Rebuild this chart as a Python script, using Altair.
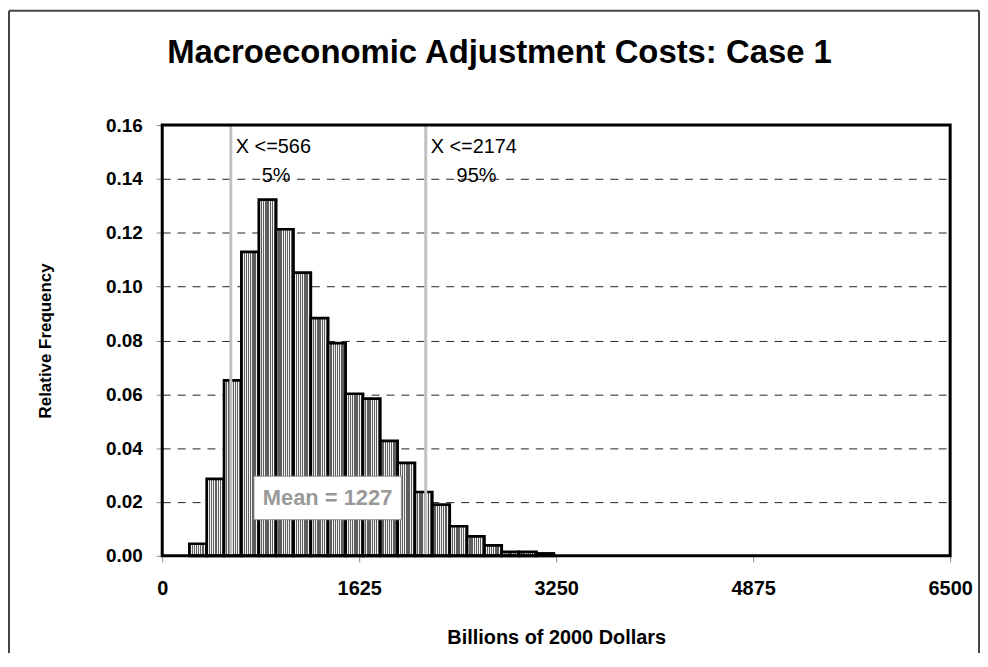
import altair as alt
import pandas as pd

FONT = "Liberation Sans"

# ---- data ----
bin_edges = [224, 367, 510, 653, 797, 940, 1083, 1226, 1369, 1513, 1656,
             1799, 1942, 2085, 2228, 2372, 2515, 2658, 2801, 2944, 3088, 3231]
rel_freq = [0.0045, 0.0286, 0.0652, 0.1129, 0.1323, 0.1213, 0.1052, 0.0883,
            0.0790, 0.0602, 0.0584, 0.0427, 0.0345, 0.0237, 0.0190, 0.0110,
            0.0072, 0.0039, 0.0015, 0.0015, 0.0009]
x_ticks = [0, 1625, 3250, 4875, 6500]
y_ticks = [0.00, 0.02, 0.04, 0.06, 0.08, 0.10, 0.12, 0.14, 0.16]
pct_values = [566, 2174]
pct_labels = ["X <=566", "X <=2174"]
pct_levels = ["5%", "95%"]
mean_value = 1227
mean_label_x = [1364]
mean_label_y = [0.0215]
mean_box_x = [757, 1973]
mean_box_y = [0.0134, 0.0296]
title_text = "Macroeconomic Adjustment Costs: Case 1"

W, H = 792, 433

bars = pd.DataFrame({
    "start": bin_edges[:-1],
    "end": bin_edges[1:],
    "freq": rel_freq,
    "base": [0.0] * len(rel_freq),
})

# striped fill like the reference's vertical hatch
stripe_dark, stripe_light = "#5e5e5e", "#f2f2f2"
n_pairs = 8
stops = []
for i in range(n_pairs):
    a = i / n_pairs
    b = (i + 0.58) / n_pairs
    c = (i + 1) / n_pairs
    stops += [alt.GradientStop(color=stripe_dark, offset=a),
              alt.GradientStop(color=stripe_dark, offset=b),
              alt.GradientStop(color=stripe_light, offset=b),
              alt.GradientStop(color=stripe_light, offset=c)]
stripes = alt.LinearGradient(gradient="linear", stops=stops, x1=0, x2=1, y1=0, y2=0)

x_scale = alt.Scale(domain=[0, 6500], nice=False, zero=False)
y_scale = alt.Scale(domain=[0, 0.16], nice=False)

x_axis = alt.Axis(values=x_ticks, format="d", grid=False, tickSize=6,
                  labelPadding=33, labelBaseline="alphabetic", labelFlush=False,
                  labelFontSize=20, labelFontWeight="bold", labelFont=FONT,
                  title="Billions of 2000 Dollars", titleFontSize=20,
                  titleFontWeight="bold", titleFont=FONT,
                  titleBaseline="alphabetic", titleY=88)
y_axis = alt.Axis(values=y_ticks, format=".2f", grid=True, gridDash=[8, 7],
                  gridColor="#222222", gridWidth=1, tickSize=6, labelPadding=14,
                  labelFlush=False,
                  labelFontSize=19, labelFontWeight="bold", labelFont=FONT,
                  title="Relative Frequency", titleFontSize=17,
                  titleFontWeight="bold", titleFont=FONT,
                  titleX=-117, titleY=H / 2, titleBaseline="middle")

bar_layer = alt.Chart(bars).mark_bar(
    fill=stripes, stroke="black", strokeWidth=2.7
).encode(
    x=alt.X("start:Q", scale=x_scale, axis=x_axis),
    x2="end:Q",
    y=alt.Y("freq:Q", scale=y_scale, axis=y_axis),
    y2="base:Q",
)

pct = pd.DataFrame({
    "x": pct_values, "lab": pct_labels, "lev": pct_levels,
    "top": [0.16, 0.16], "bottom": [0.0, 0.0],
    "ylab": [0.1498, 0.1498], "ylev": [0.139, 0.139],
})

pct_rules = alt.Chart(pct).mark_rule(color="#c0c0c0", strokeWidth=3).encode(
    x="x:Q", y="top:Q", y2="bottom:Q")

pct_text1 = alt.Chart(pct).mark_text(
    align="left", baseline="alphabetic", dx=5, fontSize=20, font=FONT,
    color="black").encode(x="x:Q", y="ylab:Q", text="lab:N")
pct_text2 = alt.Chart(pct).mark_text(
    align="left", baseline="alphabetic", dx=31, fontSize=20, font=FONT,
    color="black").encode(x="x:Q", y="ylev:Q", text="lev:N")

box = pd.DataFrame({"x1": [mean_box_x[0]], "x2": [mean_box_x[1]],
                    "y1": [mean_box_y[0]], "y2": [mean_box_y[1]]})
mean_box = alt.Chart(box).mark_rect(fill="white", stroke="#8a8a8a",
                                    strokeWidth=1).encode(
    x="x1:Q", x2="x2:Q", y="y1:Q", y2="y2:Q")

mean_df = pd.DataFrame({"x": mean_label_x, "y": mean_label_y,
                        "t": [f"Mean = {mean_value}"]})
mean_text = alt.Chart(mean_df).mark_text(
    align="center", baseline="middle", fontSize=22, fontWeight="bold",
    font=FONT, color="#999999").encode(x="x:Q", y="y:Q", text="t:N")

one = pd.DataFrame({"k": [0]})

# plot-area frame (black, drawn on top)
plot_frame = alt.Chart(one).mark_rect(
    fill=None, stroke="black", strokeWidth=3).encode(
    x=alt.value(0), x2=alt.value(W), y=alt.value(0), y2=alt.value(H))

# chart title
title_mark = alt.Chart(one).mark_text(
    text=title_text, font=FONT, fontSize=33, fontWeight="bold",
    color="black", align="center", baseline="alphabetic").encode(
    x=alt.value(339), y=alt.value(-62))

# outer chart border (left, top, right edges)
frame_color = "#444444"
frame_left = alt.Chart(one).mark_rule(color=frame_color, strokeWidth=2).encode(
    x=alt.value(-154), y=alt.value(-115), y2=alt.value(H + 100))
frame_top = alt.Chart(one).mark_rule(color=frame_color, strokeWidth=2).encode(
    x=alt.value(-154), x2=alt.value(W + 29), y=alt.value(-115))
frame_right = alt.Chart(one).mark_rule(color=frame_color, strokeWidth=2).encode(
    x=alt.value(W + 29), y=alt.value(-115), y2=alt.value(H + 100))

chart = alt.layer(
    bar_layer, pct_rules, pct_text1, pct_text2, mean_box, mean_text,
    plot_frame, title_mark, frame_left, frame_top, frame_right,
).properties(
    width=W, height=H,
    padding={"left": 155, "top": 116, "right": 30, "bottom": 96},
    autosize=alt.AutoSizeParams(type="none"),
).configure_view(
    stroke=None
).configure_axis(
    domainColor="black", domainWidth=3, tickColor="black", tickWidth=1.5,
    labelColor="black", titleColor="black"
).configure(background="white")

chart.save("out.html", embed_options={"renderer": "svg", "actions": False})
